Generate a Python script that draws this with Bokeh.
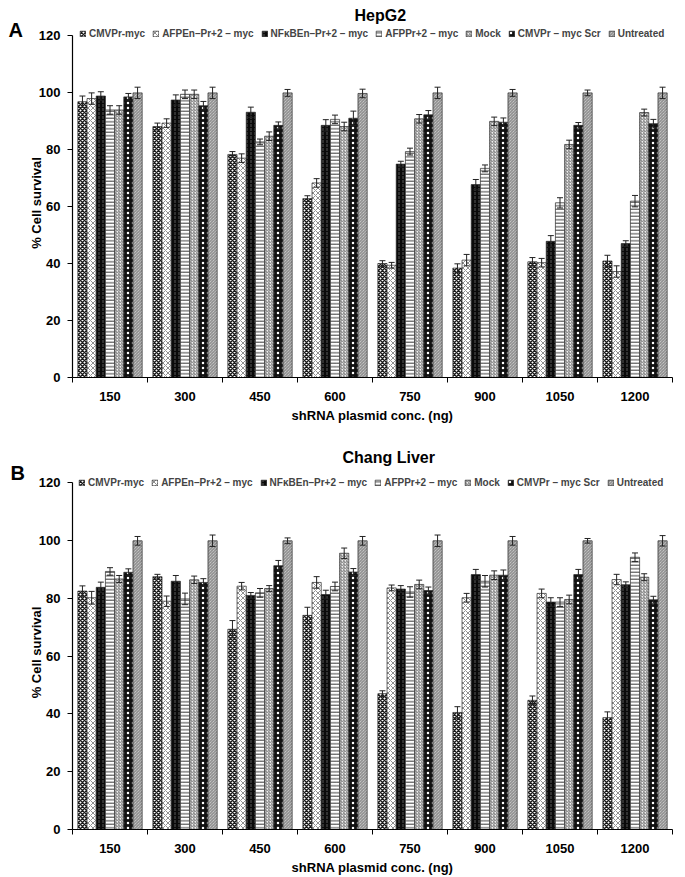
import numpy as np
from bokeh.plotting import figure
from bokeh.models import (ColumnDataSource, Range1d, FixedTicker, Whisker, TeeHead,
                          Legend, LegendItem, Title)
from bokeh.layouts import column
from bokeh.embed import file_html
from bokeh.resources import INLINE
from bokeh.transform import dodge

concentrations = ["150", "300", "450", "600", "750", "900", "1050", "1200"]
series_names = ["CMVPr-myc", "AFPEn\u2013Pr+2 \u2013 myc", "NF\u03baBEn\u2013Pr+2 \u2013 myc",
                "AFPPr+2 \u2013 myc", "Mock", "CMVPr \u2013 myc Scr", "Untreated"]
y_ticks = [0, 20, 40, 60, 80, 100, 120]

# Panel A: HepG2 (% cell survival, means)
hepg2_cmv   = [96.8, 88.1, 78.3, 62.8, 40.0, 38.4, 40.6, 40.9]
hepg2_afpen = [97.9, 89.3, 77.0, 68.3, 39.4, 41.2, 40.3, 37.2]
hepg2_nfkb  = [98.8, 97.4, 93.1, 88.5, 74.9, 67.7, 47.8, 47.0]
hepg2_afppr = [93.9, 99.4, 82.7, 90.6, 79.3, 73.4, 61.3, 61.9]
hepg2_mock  = [93.9, 99.4, 84.7, 88.1, 90.8, 89.9, 81.8, 93.0]
hepg2_scr   = [98.5, 95.4, 88.5, 91.0, 92.2, 89.6, 88.5, 89.1]
hepg2_untr  = [99.9, 99.9, 99.9, 99.7, 99.9, 99.9, 99.9, 99.9]
# Panel A errors
hepg2_cmv_err   = [2.0, 1.2, 1.0, 1.0, 1.0, 1.5, 1.5, 2.0]
hepg2_afpen_err = [2.0, 1.5, 1.5, 1.5, 1.0, 2.0, 1.5, 2.0]
hepg2_nfkb_err  = [1.5, 1.8, 1.8, 2.0, 1.0, 1.8, 2.0, 1.0]
hepg2_afppr_err = [1.5, 1.5, 1.0, 1.5, 1.2, 1.2, 1.8, 2.0]
hepg2_mock_err  = [1.5, 1.5, 1.5, 1.5, 1.5, 1.5, 1.5, 1.2]
hepg2_scr_err   = [1.2, 1.5, 1.2, 2.5, 1.5, 1.5, 1.0, 1.5]
hepg2_untr_err  = [2.0, 2.0, 1.2, 1.5, 2.0, 1.2, 1.0, 2.0]

# Panel B: Chang Liver (% cell survival, means)
chang_cmv   = [82.5, 87.5, 69.3, 74.1, 47.0, 40.5, 44.7, 38.7]
chang_afpen = [80.2, 79.0, 84.2, 85.5, 83.6, 80.2, 81.7, 86.5]
chang_nfkb  = [83.8, 85.9, 81.0, 81.3, 83.2, 88.2, 78.7, 84.7]
chang_afppr = [89.3, 79.8, 81.9, 84.1, 82.2, 85.9, 78.7, 94.2]
chang_mock  = [86.7, 86.4, 83.4, 95.6, 84.8, 88.0, 79.6, 87.3]
chang_scr   = [89.0, 85.5, 91.3, 89.1, 82.7, 88.0, 88.2, 79.5]
chang_untr  = [99.9, 99.9, 99.9, 99.9, 99.9, 99.9, 99.9, 99.9]
# Panel B errors
chang_cmv_err   = [1.8, 0.8, 3.0, 2.8, 1.0, 2.0, 1.5, 2.0]
chang_afpen_err = [2.2, 1.8, 1.3, 2.0, 1.0, 1.5, 1.5, 1.8]
chang_nfkb_err  = [1.8, 2.0, 1.0, 1.5, 1.2, 1.8, 1.5, 1.0]
chang_afppr_err = [1.3, 2.0, 1.5, 1.5, 1.8, 2.0, 1.5, 1.5]
chang_mock_err  = [1.2, 1.3, 1.0, 1.8, 1.5, 1.5, 1.5, 1.2]
chang_scr_err   = [1.2, 1.3, 1.8, 1.2, 1.2, 1.8, 1.8, 1.2]
chang_untr_err  = [1.5, 2.0, 1.0, 1.5, 2.0, 1.5, 0.8, 1.8]

FONT = "Liberation Sans"
BAR_W = 0.1225
Y_TOP = 122.5   # frame extends a little above the 120 tick to hold the legend

STYLES = [
    dict(fill_color="white", hatch_pattern="diagonal_cross", hatch_color="#1a1a1a", hatch_scale=4, hatch_weight=1.5),
    dict(fill_color="white", hatch_pattern="diagonal_cross", hatch_color="#444444", hatch_scale=5, hatch_weight=0.6),
    dict(fill_color="#0a0a0a", hatch_pattern="vertical_dash", hatch_color="#777777", hatch_scale=4, hatch_weight=0.7),
    dict(fill_color="white", hatch_pattern="horizontal_line", hatch_color="#222222", hatch_scale=3.5, hatch_weight=0.9),
    dict(fill_color="#eeeeee", hatch_pattern="right_diagonal_line", hatch_color="#444444", hatch_scale=3, hatch_weight=0.7),
    dict(fill_color="#111111", hatch_pattern="dot", hatch_color="#ffffff", hatch_scale=5, hatch_weight=1.2),
    dict(fill_color="#dcdcdc", hatch_pattern="left_diagonal_line", hatch_color="#555555", hatch_scale=3, hatch_weight=0.7),
]


def build_panel(letter, title, values, errors, height, top_border, frame_h, right_border,
                legend_x, legend_y, legend_spacing, letter_offset, letter_standoff,
                title_offset, title_standoff):
    bottom_border = height - top_border - frame_h
    p = figure(width=685, height=height, x_range=Range1d(0, len(concentrations)),
               y_range=Range1d(0, Y_TOP), output_backend="svg", toolbar_location=None,
               min_border_left=72, min_border_right=right_border,
               min_border_top=top_border, min_border_bottom=bottom_border)
    p.outline_line_color = None
    p.xgrid.visible = False
    p.ygrid.visible = False

    centers = [i + 0.5 for i in range(len(concentrations))]
    n = len(series_names)
    items = []
    for j, (name, vals, errs, st) in enumerate(zip(series_names, values, errors, STYLES)):
        src = ColumnDataSource(dict(
            x=centers, top=vals,
            upper=[v + e for v, e in zip(vals, errs)],
            lower=[v - e for v, e in zip(vals, errs)]))
        off = (j - (n - 1) / 2) * BAR_W
        r = p.vbar(x=dodge("x", off), top="top", bottom=0, width=BAR_W, source=src,
                   line_color="#2a2a2a", line_width=0.7, **st)
        w = Whisker(base=dodge("x", off), upper="upper", lower="lower", source=src,
                    level="overlay", line_color="#222222", line_width=1)
        w.upper_head = TeeHead(size=6, line_color="#222222", line_width=1)
        w.lower_head = TeeHead(size=6, line_color="#222222", line_width=1)
        p.add_layout(w)
        items.append(LegendItem(label=name, renderers=[r]))

    xa = p.xaxis[0]
    xa.ticker = FixedTicker(ticks=centers, minor_ticks=list(range(len(concentrations) + 1)))
    xa.major_label_overrides = {c: lab for c, lab in zip(centers, concentrations)}
    xa.major_tick_out = 0
    xa.major_tick_in = 0
    xa.minor_tick_out = 5
    xa.minor_tick_in = 0
    xa.minor_tick_line_color = "black"
    xa.major_label_standoff = 9
    xa.axis_line_color = "black"
    xa.axis_line_width = 1.2
    xa.axis_label = "shRNA plasmid conc. (ng)"
    xa.axis_label_standoff = 4

    ya = p.yaxis[0]
    ya.ticker = FixedTicker(ticks=y_ticks, minor_ticks=[])
    ya.bounds = (0, 120)
    ya.major_tick_out = 5
    ya.major_tick_in = 0
    ya.major_tick_line_color = "black"
    ya.major_label_standoff = 7
    ya.axis_line_color = "black"
    ya.axis_line_width = 1.2
    ya.axis_label = "% Cell survival"
    ya.axis_label_standoff = -8
    for ax in (xa, ya):
        ax.major_label_text_font = FONT
        ax.major_label_text_font_style = "bold"
        ax.major_label_text_font_size = "13px"
        ax.major_label_text_color = "black"
        ax.axis_label_text_font = FONT
        ax.axis_label_text_font_style = "bold"
        ax.axis_label_text_font_size = "13px"
        ax.axis_label_text_color = "black"

    leg = Legend(items=items, orientation="horizontal", location=(legend_x, legend_y),
                 glyph_width=7, glyph_height=7, label_standoff=3, spacing=legend_spacing,
                 padding=0, margin=0, label_height=12, label_width=10,
                 label_text_font=FONT, label_text_font_style="bold",
                 label_text_font_size="10px", border_line_color=None,
                 background_fill_alpha=0)
    p.add_layout(leg)

    # panel letter (nearest the frame) and panel title (outer row)
    p.add_layout(Title(text=letter, align="left", offset=letter_offset, standoff=letter_standoff,
                       text_font=FONT, text_font_style="bold", text_font_size="20px",
                       text_color="black"), "above")
    p.add_layout(Title(text=title, align="left", offset=title_offset, standoff=title_standoff,
                       text_font=FONT, text_font_style="bold", text_font_size="16px",
                       text_color="black"), "above")
    return p


pa = build_panel("A", "HepG2",
                 [hepg2_cmv, hepg2_afpen, hepg2_nfkb, hepg2_afppr, hepg2_mock, hepg2_scr, hepg2_untr],
                 [hepg2_cmv_err, hepg2_afpen_err, hepg2_nfkb_err, hepg2_afppr_err, hepg2_mock_err,
                  hepg2_scr_err, hepg2_untr_err],
                 height=440, top_border=24, frame_h=353, right_border=3,
                 legend_x=7, legend_y=353 - 15, legend_spacing=7,
                 letter_offset=-64, letter_standoff=-24,
                 title_offset=282, title_standoff=9)

pb = build_panel("B", "Chang Liver",
                 [chang_cmv, chang_afpen, chang_nfkb, chang_afppr, chang_mock, chang_scr, chang_untr],
                 [chang_cmv_err, chang_afpen_err, chang_nfkb_err, chang_afppr_err, chang_mock_err,
                  chang_scr_err, chang_untr_err],
                 height=437, top_border=35, frame_h=355, right_border=13,
                 legend_x=6, legend_y=355 - 14, legend_spacing=7,
                 letter_offset=-62, letter_standoff=-17,
                 title_offset=270, title_standoff=6)

layout = column(pa, pb)
open("out.html", "w").write(file_html(layout, INLINE))
